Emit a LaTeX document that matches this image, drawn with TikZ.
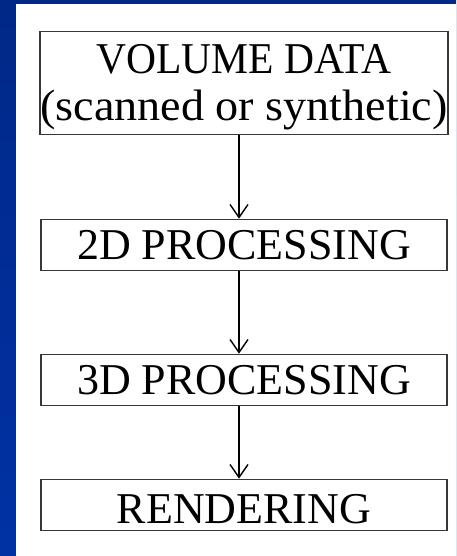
\documentclass[tikz,border=0pt]{standalone}
\usepackage{fontspec}
\setmainfont{Liberation Serif}
\usetikzlibrary{arrows.meta}
\definecolor{bgtop}{RGB}{0,40,135}
\definecolor{bgbot}{RGB}{0,50,165}
\definecolor{edgegray}{RGB}{55,55,55}
\begin{document}
\begin{tikzpicture}[x=1pt,y=1pt,
  stagebox/.style={draw=edgegray, line width=1.6pt, fill=white, minimum width=406pt,
    minimum height=51pt, inner sep=0pt, align=center, font=\fontsize{44}{47}\selectfont},
  flow/.style={line width=1.4pt, -{Straight Barb[length=13pt,width=18pt,line width=1.4pt]}}]
\useasboundingbox (0,0) rectangle (456,556);
\shade[top color=bgtop,bottom color=bgbot] (0,0) rectangle (456,556);
\fill[white] (16,0) rectangle (456,552);
\node[stagebox, minimum height=103pt] (vol) at (244,473)
  {\rule{0pt}{38pt}\scalebox{0.944}[1]{VOLUME DATA}\\\scalebox{1.049}[1]{(scanned or synthetic)}};
\node[stagebox] (p2d) at (244,311) {2D PROCESSING};
\node[stagebox] (p3d) at (244,176) {3D PROCESSING};
\node[stagebox] (ren) at (244,51) {\rule{0pt}{36.5pt}RENDERING};
\draw[flow] ([xshift=-5pt]vol.south) -- ([xshift=-5pt]p2d.north);
\draw[flow] ([xshift=-5pt]p2d.south) -- ([xshift=-5pt]p3d.north);
\draw[flow] ([xshift=-5pt]p3d.south) -- ([xshift=-5pt]ren.north);
\end{tikzpicture}
\end{document}
